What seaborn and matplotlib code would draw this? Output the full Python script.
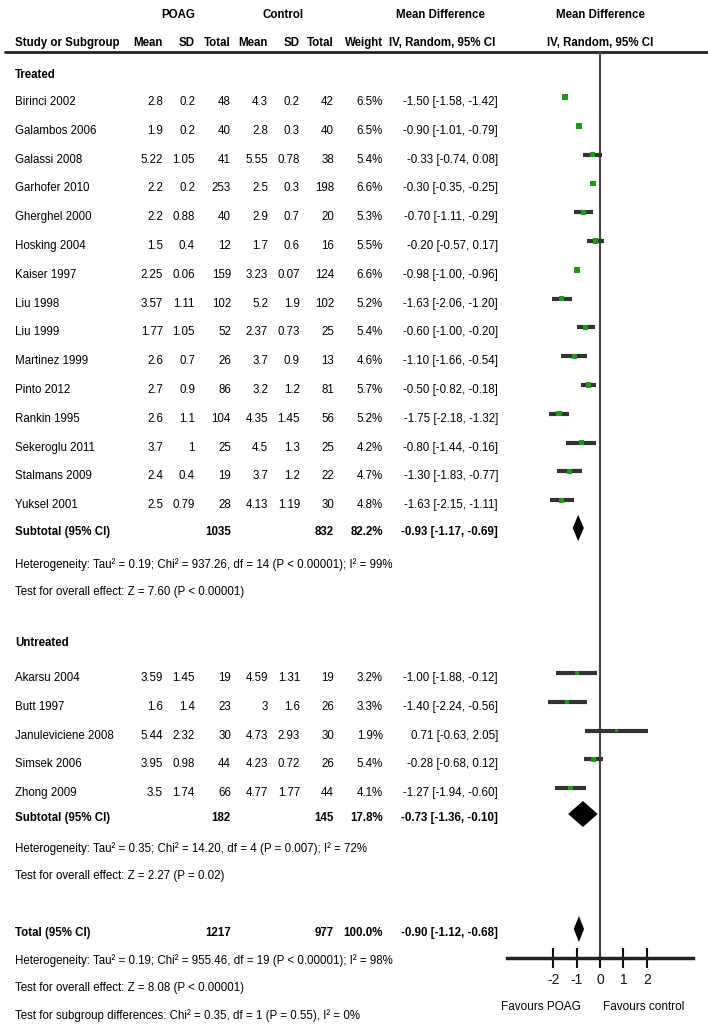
import numpy as np
import pandas as pd
import matplotlib
matplotlib.use("Agg")
import matplotlib.pyplot as plt
import seaborn as sns

# -----------------------------
# Data
# -----------------------------
treated_studies = ["Birinci 2002", "Galambos 2006", "Galassi 2008", "Garhofer 2010",
                   "Gherghel 2000", "Hosking 2004", "Kaiser 1997", "Liu 1998", "Liu 1999",
                   "Martinez 1999", "Pinto 2012", "Rankin 1995", "Sekeroglu 2011",
                   "Stalmans 2009", "Yuksel 2001"]
treated_poag_mean = [2.8, 1.9, 5.22, 2.2, 2.2, 1.5, 2.25, 3.57, 1.77, 2.6, 2.7, 2.6, 3.7, 2.4, 2.5]
treated_poag_sd = [0.2, 0.2, 1.05, 0.2, 0.88, 0.4, 0.06, 1.11, 1.05, 0.7, 0.9, 1.1, 1, 0.4, 0.79]
treated_poag_n = [48, 40, 41, 253, 40, 12, 159, 102, 52, 26, 86, 104, 25, 19, 28]
treated_ctrl_mean = [4.3, 2.8, 5.55, 2.5, 2.9, 1.7, 3.23, 5.2, 2.37, 3.7, 3.2, 4.35, 4.5, 3.7, 4.13]
treated_ctrl_sd = [0.2, 0.3, 0.78, 0.3, 0.7, 0.6, 0.07, 1.9, 0.73, 0.9, 1.2, 1.45, 1.3, 1.2, 1.19]
treated_ctrl_n = [42, 40, 38, 198, 20, 16, 124, 102, 25, 13, 81, 56, 25, 22, 30]
treated_weight = [6.5, 6.5, 5.4, 6.6, 5.3, 5.5, 6.6, 5.2, 5.4, 4.6, 5.7, 5.2, 4.2, 4.7, 4.8]
treated_md = [-1.50, -0.90, -0.33, -0.30, -0.70, -0.20, -0.98, -1.63, -0.60, -1.10, -0.50, -1.75, -0.80, -1.30, -1.63]
treated_lo = [-1.58, -1.01, -0.74, -0.35, -1.11, -0.57, -1.00, -2.06, -1.00, -1.66, -0.82, -2.18, -1.44, -1.83, -2.15]
treated_hi = [-1.42, -0.79, 0.08, -0.25, -0.29, 0.17, -0.96, -1.20, -0.20, -0.54, -0.18, -1.32, -0.16, -0.77, -1.11]

untreated_studies = ["Akarsu 2004", "Butt 1997", "Januleviciene 2008", "Simsek 2006", "Zhong 2009"]
untreated_poag_mean = [3.59, 1.6, 5.44, 3.95, 3.5]
untreated_poag_sd = [1.45, 1.4, 2.32, 0.98, 1.74]
untreated_poag_n = [19, 23, 30, 44, 66]
untreated_ctrl_mean = [4.59, 3, 4.73, 4.23, 4.77]
untreated_ctrl_sd = [1.31, 1.6, 2.93, 0.72, 1.77]
untreated_ctrl_n = [19, 26, 30, 26, 44]
untreated_weight = [3.2, 3.3, 1.9, 5.4, 4.1]
untreated_md = [-1.00, -1.40, 0.71, -0.28, -1.27]
untreated_lo = [-1.88, -2.24, -0.63, -0.68, -1.94]
untreated_hi = [-0.12, -0.56, 2.05, 0.12, -0.60]

summary_labels = ["Subtotal (95% CI)", "Subtotal (95% CI)", "Total (95% CI)"]
summary_poag_n = [1035, 182, 1217]
summary_ctrl_n = [832, 145, 977]
summary_weight = [82.2, 17.8, 100.0]
summary_md = [-0.93, -0.73, -0.90]
summary_lo = [-1.17, -1.36, -1.12]
summary_hi = [-0.69, -0.10, -0.68]

stats_treated = ["Heterogeneity: Tau\u00b2 = 0.19; Chi\u00b2 = 937.26, df = 14 (P < 0.00001); I\u00b2 = 99%",
                 "Test for overall effect: Z = 7.60 (P < 0.00001)"]
stats_untreated = ["Heterogeneity: Tau\u00b2 = 0.35; Chi\u00b2 = 14.20, df = 4 (P = 0.007); I\u00b2 = 72%",
                   "Test for overall effect: Z = 2.27 (P = 0.02)"]
stats_total = ["Heterogeneity: Tau\u00b2 = 0.19; Chi\u00b2 = 955.46, df = 19 (P < 0.00001); I\u00b2 = 98%",
               "Test for overall effect: Z = 8.08 (P < 0.00001)",
               "Test for subgroup differences: Chi\u00b2 = 0.35, df = 1 (P = 0.55), I\u00b2 = 0%"]

xticks = [-2, -1, 0, 1, 2]

# -----------------------------
# Layout (pixel rows)
# -----------------------------
W, H = 708, 1034
STEP = 28.8
y_treated = 102 + STEP * np.arange(len(treated_studies))
y_untreated = 678 + STEP * np.arange(len(untreated_studies))
y_summary = [532, 818, 933]
MARK_OFF = -5

df = pd.DataFrame({
    "study": treated_studies + untreated_studies,
    "pm": treated_poag_mean + untreated_poag_mean,
    "psd": treated_poag_sd + untreated_poag_sd,
    "pn": treated_poag_n + untreated_poag_n,
    "cm": treated_ctrl_mean + untreated_ctrl_mean,
    "csd": treated_ctrl_sd + untreated_ctrl_sd,
    "cn": treated_ctrl_n + untreated_ctrl_n,
    "weight": treated_weight + untreated_weight,
    "md": treated_md + untreated_md,
    "lo": treated_lo + untreated_lo,
    "hi": treated_hi + untreated_hi,
    "y": np.concatenate([y_treated, y_untreated]),
})
df["ym"] = df["y"] + MARK_OFF

sns.set_style("white")
plt.rcParams["font.family"] = ["Liberation Sans", "DejaVu Sans"]

fig = plt.figure(figsize=(W / 100, H / 100), dpi=100)

# text layer
tax = fig.add_axes([0, 0, 1, 1])
tax.set_xlim(0, W)
tax.set_ylim(H, 0)
tax.axis("off")

FS = 8.3
col_right = [163, 195, 231, 268, 300, 334, 383]
ci_right = 498


def txt(x, y, s, ha="left", bold=False, fs=FS):
    tax.text(x, y, s, ha=ha, va="center", fontsize=fs,
             fontweight="bold" if bold else "normal", color="#000000")


def fmt(v):
    return f"{v:g}"


# headers
txt(178, 15, "POAG", ha="center", bold=True)
txt(283, 15, "Control", ha="center", bold=True)
txt(440, 15, "Mean Difference", ha="center", bold=True)
txt(600, 15, "Mean Difference", ha="center", bold=True)
txt(15, 43, "Study or Subgroup", bold=True)
for x, h in zip(col_right, ["Mean", "SD", "Total", "Mean", "SD", "Total", "Weight"]):
    txt(x, 43, h, ha="right", bold=True)
txt(442, 43, "IV, Random, 95% CI", ha="center", bold=True)
txt(600, 43, "IV, Random, 95% CI", ha="center", bold=True)
tax.plot([5, W], [52, 52], color="#222222", lw=2)

txt(15, 75, "Treated", bold=True)
txt(15, 643, "Untreated", bold=True)

for _, r in df.iterrows():
    txt(15, r.y, r.study)
    vals = [fmt(r.pm), fmt(r.psd), str(int(r.pn)), fmt(r.cm), fmt(r.csd),
            str(int(r.cn)), f"{r.weight:.1f}%"]
    for x, v in zip(col_right, vals):
        txt(x, r.y, v, ha="right")
    txt(ci_right, r.y, f"{r.md:.2f} [{r.lo:.2f}, {r.hi:.2f}]", ha="right")

for lab, y, pn, cn, w, md, lo, hi in zip(summary_labels, y_summary, summary_poag_n,
                                         summary_ctrl_n, summary_weight, summary_md,
                                         summary_lo, summary_hi):
    txt(15, y, lab, bold=True)
    txt(col_right[2], y, str(pn), ha="right", bold=True)
    txt(col_right[5], y, str(cn), ha="right", bold=True)
    txt(col_right[6], y, f"{w:.1f}%", ha="right", bold=True)
    txt(ci_right, y, f"{md:.2f} [{lo:.2f}, {hi:.2f}]", ha="right", bold=True)

for lines, y0 in [(stats_treated, 565), (stats_untreated, 849), (stats_total, 961)]:
    for i, s in enumerate(lines):
        txt(15, y0 + i * 27.5, s)

# forest layer
fax = fig.add_axes([507 / W, 1 - 958 / H, 186 / W, (958 - 52) / H])
fax.patch.set_alpha(0)
fax.hlines(df["ym"], df["lo"], df["hi"], color="#333333", lw=3, zorder=2)
sns.scatterplot(data=df, x="md", y="ym", size="weight", sizes=(6, 16), marker="s",
                color="#1c9a1c", edgecolor="none", legend=False, ax=fax, zorder=3)
for y, md, lo, hi in zip(y_summary, summary_md, summary_lo, summary_hi):
    yc = y + MARK_OFF + 1
    fax.fill([lo, md, hi, md], [yc, yc - 13, yc, yc + 13], color="black", lw=0, zorder=3)
fax.axvline(0, color="#444444", lw=1.5, zorder=1)
fax.set_xlim(-3.97, 3.97)
fax.set_ylim(958, 52)
fax.set_xticks(xticks)
fax.set_xticklabels([str(t) for t in xticks])
fax.set_yticks([])
fax.set_xlabel("")
fax.set_ylabel("")
for s in ["left", "top", "right"]:
    fax.spines[s].set_visible(False)
fax.spines["bottom"].set_linewidth(2.5)
fax.spines["bottom"].set_color("#222222")
fax.tick_params(axis="x", direction="inout", length=14, width=1.5, labelsize=10,
                pad=4, colors="#111111", bottom=True)

txt(541, 1007, "Favours POAG", ha="center", fs=8.5)
txt(644, 1007, "Favours control", ha="center", fs=8.5)

fig.savefig("out.png", dpi=100)
